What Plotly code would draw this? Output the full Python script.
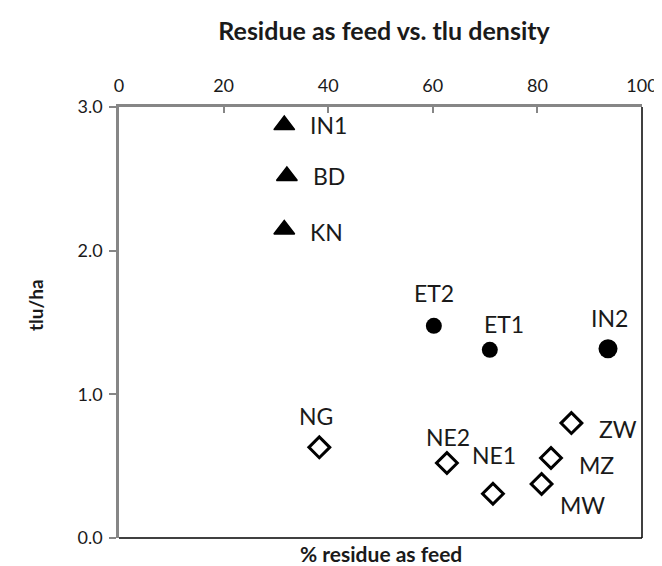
import plotly.graph_objects as go

# ---- data ----
tri_names = ["IN1", "BD", "KN"]
tri_x = [31.6, 32.1, 31.6]
tri_y = [2.874, 2.52, 2.147]

cir_names = ["ET2", "ET1", "IN2"]
cir_x = [60.2, 70.9, 93.5]
cir_y = [1.477, 1.31, 1.317]

dia_names = ["NG", "NE2", "NE1", "ZW", "MZ", "MW"]
dia_x = [38.3, 62.7, 71.5, 86.5, 82.6, 80.8]
dia_y = [0.631, 0.522, 0.308, 0.80, 0.557, 0.376]

x_ticks = [0, 20, 40, 60, 80, 100]
y_ticks = [0.0, 1.0, 2.0, 3.0]

# ---- style ----
FONT = "Lato, 'Open Sans', sans-serif"
TXT = "#1a1a1a"
LABEL_SIZE = 23
cir_sizes = [16, 16, 19]
label_shift = {
    "IN1": (44, 0), "BD": (42, 0), "KN": (42, -2),
    "ET2": (0, 33), "ET1": (14, 26), "IN2": (1, 31),
    "NG": (-3, 31), "NE2": (1, 26), "NE1": (1, 39),
    "ZW": (47, -6), "MZ": (45, -7), "MW": (41, -21),
}

fig = go.Figure()
fig.add_trace(go.Scatter(x=tri_x, y=tri_y, mode="markers",
                         marker=dict(symbol="triangle-up", size=18, color="black", opacity=1,
                                     line=dict(width=1.5, color="black")),
                         showlegend=False, hoverinfo="skip"))
fig.add_trace(go.Scatter(x=cir_x, y=cir_y, mode="markers",
                         marker=dict(symbol="circle", size=cir_sizes, color="black", opacity=1,
                                     line=dict(width=0, color="black")),
                         showlegend=False, hoverinfo="skip"))
fig.add_trace(go.Scatter(x=dia_x, y=dia_y, mode="markers",
                         marker=dict(symbol="diamond-open", size=16, color="black", opacity=1,
                                     line=dict(width=3, color="black")),
                         showlegend=False, hoverinfo="skip"))

annotations = []
for names, xs, ys in [(tri_names, tri_x, tri_y), (cir_names, cir_x, cir_y), (dia_names, dia_x, dia_y)]:
    for n, xv, yv in zip(names, xs, ys):
        dx, dy = label_shift[n]
        annotations.append(dict(x=xv, y=yv, xref="x", yref="y", text=n, showarrow=False,
                                xshift=dx, yshift=dy,
                                font=dict(family=FONT, size=LABEL_SIZE, color=TXT)))

# bottom x-axis title
annotations.append(dict(x=0.5, y=-0.037, xref="paper", yref="paper", yanchor="middle",
                        text="<b>% residue as feed</b>", showarrow=False,
                        font=dict(family=FONT, size=21, color=TXT)))
# y-axis title
annotations.append(dict(x=-0.161, y=0.54, xref="paper", yref="paper", xanchor="center",
                        yanchor="middle", textangle=-90,
                        text="<b>tlu/ha</b>", showarrow=False,
                        font=dict(family=FONT, size=19, color=TXT)))

fig.update_layout(
    width=662, height=566,
    margin=dict(l=111, r=28, t=99, b=36),
    paper_bgcolor="white", plot_bgcolor="white",
    title=dict(text="<b>Residue as feed vs. tlu density</b>", x=0.568, xanchor="center",
               y=0.959, yanchor="middle",
               font=dict(family=FONT, size=25, color=TXT)),
    xaxis=dict(side="top", range=[0, 100], tickvals=x_ticks, ticktext=[str(v) for v in x_ticks],
               showgrid=False, zeroline=False, showline=True, linecolor="#868686", linewidth=2.5,
               ticks="inside", ticklen=6, tickwidth=1.5, tickcolor="#868686",
               ticklabelstandoff=5,
               tickfont=dict(family=FONT, size=18, color=TXT)),
    yaxis=dict(range=[0, 3], tickvals=y_ticks, ticktext=[f"{v:.1f}" for v in y_ticks],
               showgrid=False, zeroline=False, showline=True, linecolor="#868686", linewidth=2.5,
               ticks="outside", ticklen=7, tickwidth=1.5, tickcolor="#868686",
               ticklabelstandoff=3,
               tickfont=dict(family=FONT, size=18, color=TXT)),
    annotations=annotations,
    shapes=[
        dict(type="line", xref="paper", yref="paper", x0=1, x1=1, y0=0, y1=1,
             line=dict(color="black", width=1.5)),
        dict(type="line", xref="paper", yref="paper", x0=0, x1=1, y0=0, y1=0,
             line=dict(color="black", width=1.5)),
    ],
)

fig.write_html("out.html")
